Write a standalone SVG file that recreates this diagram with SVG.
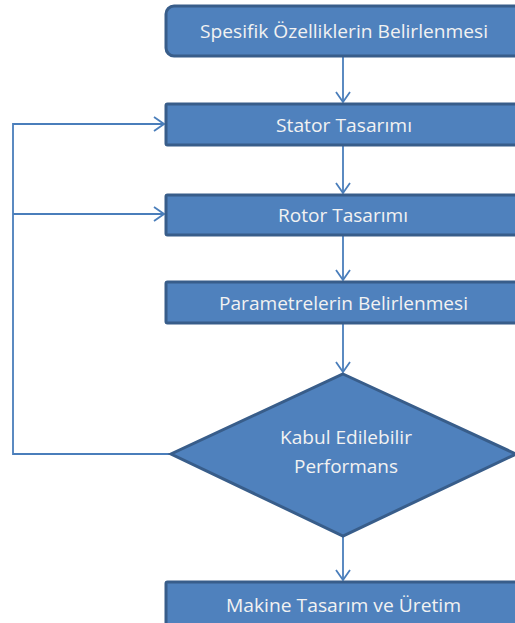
<svg xmlns="http://www.w3.org/2000/svg" width="515" height="623" viewBox="0 0 515 623">
<defs>
<style>
.box{fill:#4F81BD;stroke:#385D8A;stroke-width:3}
.lbl{font-family:"Open Sans","Liberation Sans",sans-serif;font-size:19px;fill:#F2F2F2;text-anchor:middle}
.con{fill:none;stroke:#4A7EBB;stroke-width:1.8}
</style>
<marker id="arr" viewBox="0 0 12 16" refX="11" refY="8" markerWidth="12" markerHeight="16" markerUnits="userSpaceOnUse" orient="auto">
<path d="M1,1 L11,8 L1,15" fill="none" stroke="#4A7EBB" stroke-width="1.8"/>
</marker>
</defs>
<rect width="515" height="623" fill="#FFFFFF"/>
<g id="connectors">
<line class="con" x1="343" y1="57" x2="343" y2="102" marker-end="url(#arr)"/>
<line class="con" x1="343" y1="146" x2="343" y2="193" marker-end="url(#arr)"/>
<line class="con" x1="343" y1="236" x2="343" y2="280" marker-end="url(#arr)"/>
<line class="con" x1="343" y1="324" x2="343" y2="372" marker-end="url(#arr)"/>
<line class="con" x1="343" y1="537" x2="343" y2="580" marker-end="url(#arr)"/>
<polyline class="con" points="170,454 13,454 13,124 164,124" marker-end="url(#arr)"/>
<line class="con" x1="13" y1="214" x2="164" y2="214" marker-end="url(#arr)"/>
</g>
<g id="n1">
<rect class="box" x="166" y="6" width="362" height="50" rx="8"/>
<text class="lbl" x="344" y="38" textLength="288" lengthAdjust="spacingAndGlyphs">Spesifik Özelliklerin Belirlenmesi</text>
</g>
<g id="n2">
<rect class="box" x="166" y="104" width="362" height="41" rx="1.5"/>
<text class="lbl" x="344" y="132" textLength="136" lengthAdjust="spacingAndGlyphs">Stator Tasarımı</text>
</g>
<g id="n3">
<rect class="box" x="166" y="195" width="362" height="40" rx="1.5"/>
<text class="lbl" x="343" y="222" textLength="130" lengthAdjust="spacingAndGlyphs">Rotor Tasarımı</text>
</g>
<g id="n4">
<rect class="box" x="166" y="282" width="362" height="41" rx="1.5"/>
<text class="lbl" x="343.5" y="310" textLength="249" lengthAdjust="spacingAndGlyphs">Parametrelerin Belirlenmesi</text>
</g>
<g id="n5">
<polygon class="box" points="343,374 516,454 343,536 171,454"/>
<text class="lbl" x="346" y="444" textLength="132" lengthAdjust="spacingAndGlyphs">Kabul Edilebilir</text>
<text class="lbl" x="346" y="473" textLength="104" lengthAdjust="spacingAndGlyphs">Performans</text>
</g>
<g id="n6">
<rect class="box" x="166" y="582" width="362" height="44" rx="1.5"/>
<text class="lbl" x="343.5" y="612" textLength="235" lengthAdjust="spacingAndGlyphs">Makine Tasarım ve Üretim</text>
</g>
</svg>
